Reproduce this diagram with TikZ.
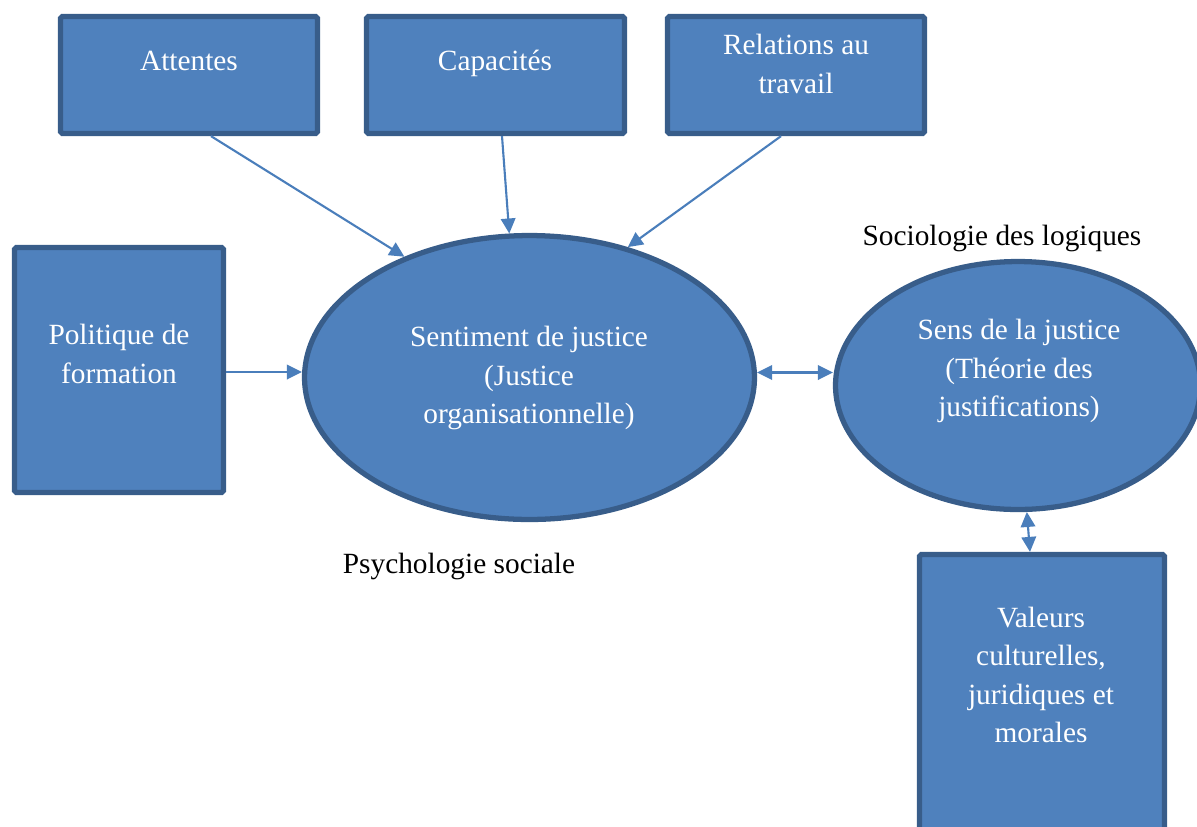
\documentclass[tikz,border=0pt]{standalone}
\usepackage{fontspec}
\setmainfont{Liberation Serif}
\usetikzlibrary{shapes.geometric,arrows.meta,calc}
\definecolor{boxfill}{HTML}{4F81BD}
\definecolor{boxline}{HTML}{385D8A}
\definecolor{arrowcol}{HTML}{4A7EBB}
\begin{document}
\begin{tikzpicture}[x=0.02cm,y=-0.02cm,
  base/.style={fill=boxfill,draw=boxline,line width=3pt,inner sep=0pt},
  bluebox/.style={base,rectangle,rounded corners=1pt},
  blueoval/.style={base,ellipse},
  intext/.style={text=white,align=center,inner sep=0pt,font=\fontsize{16.7pt}{21.9pt}\selectfont},
  outtext/.style={text=black,inner sep=0pt,font=\fontsize{16.7pt}{21.9pt}\selectfont},
  tip/.tip={Triangle[length=0.3cm,width=0.29cm]},
  link/.style={draw=arrowcol,line width=1.2pt,-tip},
  dlink/.style={draw=arrowcol,line width=1.2pt,tip-tip}]
\useasboundingbox (0,0) rectangle (1197,826);
\clip (0,0) rectangle (1197,826);

% boxes
\node[bluebox,minimum width=5.14cm,minimum height=2.34cm] (att) at (189,75) {};
\node[bluebox,minimum width=5.16cm,minimum height=2.34cm] (cap) at (495.5,75) {};
\node[bluebox,minimum width=5.14cm,minimum height=2.34cm] (rel) at (796,75) {};
\node[bluebox,minimum width=4.18cm,minimum height=4.9cm] (pol) at (119,370) {};
\node[bluebox,minimum width=4.9cm,minimum height=5.9cm] (val) at (1042,702) {};

% ellipses
\node[blueoval,minimum width=9.0cm,minimum height=5.68cm] (sj) at (529.5,377.5) {};
\node[blueoval,minimum width=7.3cm,minimum height=4.96cm] (ss) at (1018,385.5) {};

% texts inside the shapes
\node[intext,anchor=base] (attT) at (189,70) {Attentes};
\node[intext,anchor=base] (capT) at (495,70) {Capacités};
\node[intext] (relT) at (796,64) {Relations au\\travail};
\node[intext] (polT) at (119,354) {Politique de\\formation};
\node[intext] (sjT) at (529,378) {Sentiment de justice\\(Justice\\organisationnelle)};
\node[intext] (ssT) at (1019,371) {Sens de la justice\\(Théorie des\\justifications)};
\node[intext] (valT) at (1041,675) {Valeurs\\culturelles,\\juridiques et\\morales};

% discipline labels
\node[outtext,anchor=base] (socio) at (1002,245) {Sociologie des logiques};
\node[outtext,anchor=base] (psy) at (459,573) {Psychologie sociale};

% connector end points that sit off the anchors
\coordinate (polout) at ($(pol.east)+(0,2)$);
\coordinate (sjout) at ($(sj.east)+(0,-5)$);
\coordinate (valin) at ($(val.north)+(-12,0)$);

% connectors
\draw[link] ($(att.south)+(22,0)$) -- (sj.136.7);
\draw[link] ($(cap.south)+(6.5,0)$) -- (sj.98.7);
\draw[link] ($(rel.south)+(-15,0)$) -- (sj.53.8);
\draw[link] (polout) -- (polout -| sj.west);
\draw[dlink] (sjout) -- (sjout -| ss.west);
\draw[dlink] (ss.-86) -- (valin);
\end{tikzpicture}
\end{document}
